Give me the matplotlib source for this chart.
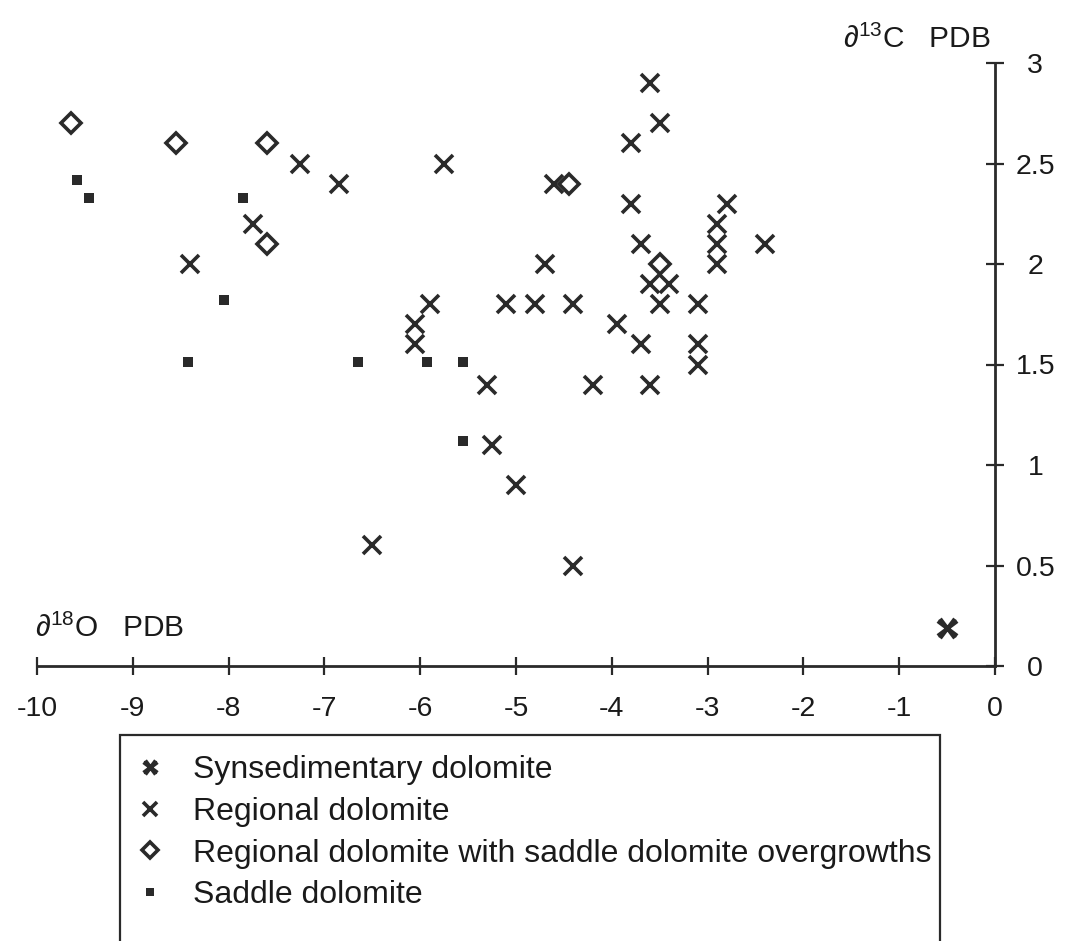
import matplotlib
matplotlib.use("Agg")
import matplotlib.pyplot as plt
from matplotlib.path import Path
from matplotlib.patches import Rectangle

plt.rcParams['font.family'] = ['Liberation Sans', 'DejaVu Sans']
plt.rcParams['mathtext.fontset'] = 'custom'
plt.rcParams['mathtext.rm'] = 'Liberation Sans'
plt.rcParams['mathtext.it'] = 'Liberation Sans'

# ---- data (d18O PDB, d13C PDB) ----
syn_x = [-0.5]
syn_y = [0.19]

reg_x = [-7.25, -6.85, -5.75, -7.75, -8.4, -5.9, -5.1, -4.8, -6.05, -6.05,
         -5.3, -5.25, -5.0, -6.5, -3.6, -3.5, -3.8, -4.6, -3.8, -2.8,
         -2.9, -3.7, -2.9, -2.4, -2.9, -4.7, -3.6, -3.4, -3.5, -3.1,
         -4.4, -3.95, -3.7, -3.1, -3.1, -4.2, -3.6, -4.4]
reg_y = [2.5, 2.4, 2.5, 2.2, 2.0, 1.8, 1.8, 1.8, 1.7, 1.6,
         1.4, 1.1, 0.9, 0.6, 2.9, 2.7, 2.6, 2.4, 2.3, 2.3,
         2.2, 2.1, 2.1, 2.1, 2.0, 2.0, 1.9, 1.9, 1.8, 1.8,
         1.8, 1.7, 1.6, 1.6, 1.5, 1.4, 1.4, 0.5]

ovg_x = [-9.65, -8.55, -7.6, -7.6, -4.45, -3.5]
ovg_y = [2.7, 2.6, 2.6, 2.1, 2.4, 2.0]

sad_x = [-9.58, -9.46, -7.85, -8.05, -8.42, -6.65, -5.93, -5.55, -5.55]
sad_y = [2.42, 2.33, 2.33, 1.82, 1.51, 1.51, 1.51, 1.51, 1.12]

x_ticks = [-10, -9, -8, -7, -6, -5, -4, -3, -2, -1, 0]
x_ticklabels = ['-10', '-9', '-8', '-7', '-6', '-5', '-4', '-3', '-2', '-1', '0']
y_ticks = [0, 0.5, 1, 1.5, 2, 2.5, 3]
y_ticklabels = ['0', '0.5', '1', '1.5', '2', '2.5', '3']

labels = ['Synsedimentary dolomite',
          'Regional dolomite',
          'Regional dolomite with saddle dolomite overgrowths',
          'Saddle dolomite']

# ---- figure ----
W, H = 1071, 941
fig = plt.figure(figsize=(W / 100, H / 100), dpi=100)
ax = fig.add_axes([37 / W, 1 - 666 / H, 958 / W, 603 / H])
ax.set_facecolor('none')

ink = '#2a2a2a'
txt = '#1a1a1a'

M, L = Path.MOVETO, Path.LINETO
syn_marker = Path([(-1, -0.75), (1, 0.75), (-0.75, -1), (0.75, 1),
                   (-1, 0.75), (1, -0.75), (-0.75, 1), (0.75, -1)],
                  [M, L, M, L, M, L, M, L])

h1, = ax.plot(syn_x, syn_y, linestyle='none', marker=syn_marker, markersize=14,
              markeredgewidth=2.8, color=ink, clip_on=False, label=labels[0])
h2, = ax.plot(reg_x, reg_y, linestyle='none', marker='x', markersize=13.5,
              markeredgewidth=2.6, color=ink, clip_on=False, label=labels[1])
h3, = ax.plot(ovg_x, ovg_y, linestyle='none', marker='D', markersize=10,
              markeredgewidth=2.6, markerfacecolor='white', markeredgecolor=ink,
              clip_on=False, label=labels[2])
h4, = ax.plot(sad_x, sad_y, linestyle='none', marker='s', markersize=7.2,
              markeredgewidth=0, color=ink, clip_on=False, label=labels[3])

ax.set_xlim(-10, 0)
ax.set_ylim(0, 3)

for s in ['top', 'left']:
    ax.spines[s].set_visible(False)
for s in ['bottom', 'right']:
    ax.spines[s].set_linewidth(2.0)
    ax.spines[s].set_color(ink)

ax.yaxis.tick_right()
ax.set_xticks(x_ticks)
ax.set_xticklabels(x_ticklabels)
ax.set_yticks(y_ticks)
ax.set_yticklabels(y_ticklabels)
ax.tick_params(axis='x', direction='inout', length=13.5, width=1.6, color=ink,
               labelsize=20.5, pad=15, labelcolor=txt)
ax.tick_params(axis='y', direction='inout', length=13, width=1.6, color=ink,
               labelsize=20.5, pad=22.5, labelcolor=txt)
for t in ax.get_yticklabels():
    t.set_horizontalalignment('center')

ax.set_xlabel('∂$^{18}$O   PDB', fontsize=21.5, color=txt)
ax.xaxis.set_label_coords(-0.002, (666 - 637) / 603)
ax.xaxis.label.set_horizontalalignment('left')
ax.xaxis.label.set_verticalalignment('baseline')

ax.set_ylabel('∂$^{13}$C   PDB', fontsize=21.5, color=txt, rotation=0)
ax.yaxis.set_label_position('right')
ax.yaxis.set_label_coords((990 - 37) / 958, (666 - 48) / 603)
ax.yaxis.label.set_horizontalalignment('right')
ax.yaxis.label.set_verticalalignment('baseline')
ax.yaxis.label.set_rotation_mode('default')

# legend
leg = fig.legend(handles=[h1, h2, h3, h4], loc='upper left',
                 bbox_to_anchor=(134 / W, 1 - 755 / H), frameon=False,
                 fontsize=23, handlelength=1.0, handletextpad=0.85,
                 labelspacing=0.37, borderpad=0, borderaxespad=0,
                 labelcolor=txt)
sizes = [10, 10, 8, 6]
for hd, ms in zip(leg.legend_handles, sizes):
    hd.set_markersize(ms)

fig.patches.append(Rectangle((120 / W, -0.05), (940 - 120) / W, 0.05 + (1 - 735 / H),
                             transform=fig.transFigure, fill=False,
                             edgecolor=ink, linewidth=1.6, zorder=0))

fig.savefig('out.png', dpi=100, facecolor='white')
